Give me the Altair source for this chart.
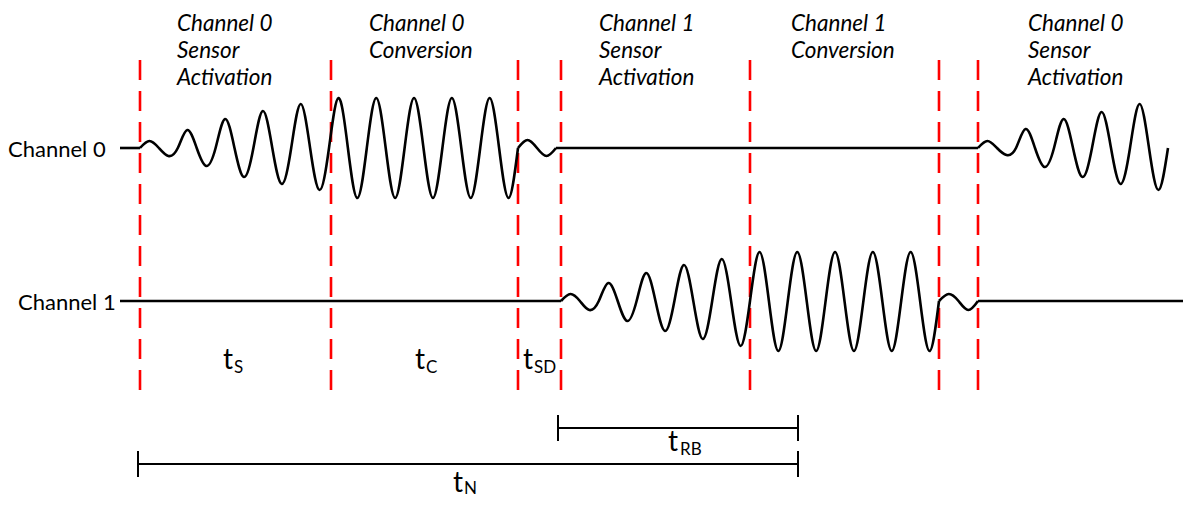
import altair as alt
import pandas as pd

# ---------------- data (time positions in diagram units) ----------------
# phase boundaries (dashed red markers)
boundaries = [140, 331, 518, 561, 750, 939, 978]
marker_top, marker_bottom = 60, 398

# channels
ch_names = ["Channel 0", "Channel 1"]
ch_levels = [148, 301]
ch_label_x = [8, 18]
ch_label_base = [157, 310]

# oscillation bursts: start, end, channel, amplitude of each half cycle
burst_start = [140, 518, 978, 561, 939]
burst_end = [518, 556, 1168, 939, 978]
burst_channel = [0, 0, 0, 1, 1]
burst_amps = [
    [7, 8, 18, 18, 29, 29, 37, 36, 44, 42,
     50, 50, 50, 50, 50, 50, 50, 50, 50, 50],
    [8, 8],
    [7, 7, 19, 19, 29, 29, 36, 36, 44, 42],
    [7, 9, 18, 20, 28, 30, 36, 38, 42, 45,
     49, 50, 49, 50, 49, 50, 49, 50, 49, 50],
    [7, 9],
]

# idle (flat) segments
idle_start = [120, 556, 120, 978]
idle_end = [140, 978, 561, 1191]
idle_channel = [0, 0, 1, 1]

# phase titles
phase_x = [177, 369, 599, 791, 1028]
phase_lines = [
    ["Channel 0", "Sensor", "Activation"],
    ["Channel 0", "Conversion"],
    ["Channel 1", "Sensor", "Activation"],
    ["Channel 1", "Conversion"],
    ["Channel 0", "Sensor", "Activation"],
]
phase_line_base = [30.5, 57.5, 85]

# timing labels t_X
tl_sub = ["S", "C", "SD", "RB", "N"]
tl_x = [223, 415, 523, 668, 453]
tl_sub_x = [234, 426, 534, 680, 464]
tl_base = [369, 369, 369, 451, 491.5]
tl_sub_base = [373, 373, 373, 455, 494]

# timing spans (brackets)
span_start = [558, 138]
span_end = [798, 798]
span_y = [428, 464]

# ---------------- tables ----------------
wave_rows = []
for b, (s, e, c, amps) in enumerate(zip(burst_start, burst_end, burst_channel, burst_amps)):
    n = len(amps)
    step = (e - s) / (2 * n)
    lvl = ch_levels[c]
    for i in range(2 * n + 1):
        if i % 2 == 0:
            y = lvl
        else:
            k = (i - 1) // 2
            y = lvl - amps[k] if k % 2 == 0 else lvl + amps[k]
        wave_rows.append({"burst": b, "order": i, "x": s + i * step, "y": y})
wave_df = pd.DataFrame(wave_rows)

idle_df = pd.DataFrame({
    "x": idle_start, "x2": idle_end,
    "y": [ch_levels[c] for c in idle_channel],
})

marker_df = pd.DataFrame({"x": boundaries, "y": marker_top, "y2": marker_bottom})

ch_df = pd.DataFrame({"x": ch_label_x, "y": ch_label_base, "text": ch_names})

phase_rows = []
for px, lines in zip(phase_x, phase_lines):
    for j, t in enumerate(lines):
        phase_rows.append({"x": px, "y": phase_line_base[j], "text": t})
phase_df = pd.DataFrame(phase_rows)

t_df = pd.DataFrame({"x": tl_x, "y": tl_base, "text": ["t"] * len(tl_x)})
sub_df = pd.DataFrame({"x": tl_sub_x, "y": tl_sub_base, "text": tl_sub})

span_df = pd.DataFrame({"x": span_start, "x2": span_end, "y": span_y})
tick_df = pd.DataFrame({
    "x": span_start + span_end,
    "y": [y - 13 for y in span_y] * 2,
    "y2": [y + 13 for y in span_y] * 2,
})

# ---------------- chart ----------------
X = alt.X("x:Q", scale=alt.Scale(domain=[8, 1183], nice=False, zero=False), axis=None)
Y = alt.Y("y:Q", scale=alt.Scale(domain=[8, 498], nice=False, zero=False, reverse=True), axis=None)

markers = alt.Chart(marker_df).mark_rule(
    color="#ff0000", strokeWidth=2.6, strokeDash=[20, 11]
).encode(x=X, y=Y, y2="y2:Q")

idle = alt.Chart(idle_df).mark_rule(color="black", strokeWidth=2.6).encode(
    x=X, x2="x2:Q", y=Y)

waves = alt.Chart(wave_df).mark_line(
    color="black", strokeWidth=2.6, interpolate="natural"
).encode(x=X, y=Y, detail="burst:N", order="order:Q")

ch_text = alt.Chart(ch_df).mark_text(
    align="left", baseline="alphabetic", font="Lato", fontSize=22, color="black"
).encode(x=X, y=Y, text="text:N")

phase_text = alt.Chart(phase_df).mark_text(
    align="left", baseline="alphabetic", font="Lato", fontSize=22.5,
    fontStyle="italic", color="black"
).encode(x=X, y=Y, text="text:N")

t_text = alt.Chart(t_df).mark_text(
    align="left", baseline="alphabetic", font="Lato", fontSize=28, color="black"
).encode(x=X, y=Y, text="text:N")

sub_text = alt.Chart(sub_df).mark_text(
    align="left", baseline="alphabetic", font="Lato", fontSize=17, color="black"
).encode(x=X, y=Y, text="text:N")

spans = alt.Chart(span_df).mark_rule(color="black", strokeWidth=2).encode(
    x=X, x2="x2:Q", y=Y)
ticks = alt.Chart(tick_df).mark_rule(color="black", strokeWidth=2).encode(
    x=X, y=Y, y2="y2:Q")

chart = alt.layer(
    markers, idle, waves, ch_text, phase_text, t_text, sub_text, spans, ticks
).properties(
    width=1175, height=490, padding=0, autosize="none", background="white"
).configure_view(stroke=None)

chart.save("out.html", embed_options={"renderer": "svg", "actions": False})
